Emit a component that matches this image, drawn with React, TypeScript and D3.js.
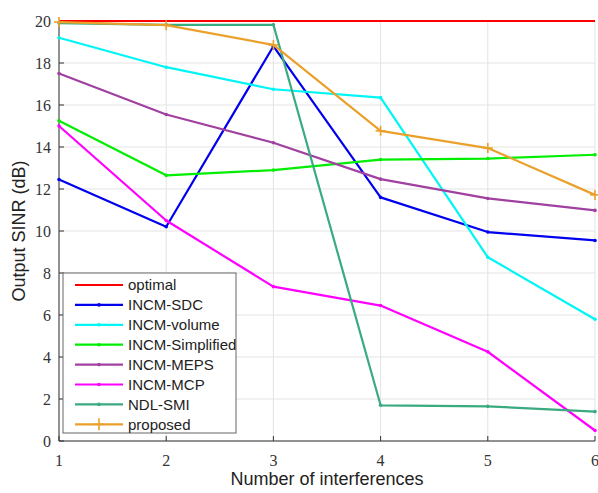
import React from "react";
import * as d3 from "d3";

const xValues = [1, 2, 3, 4, 5, 6];
const yTicks = [0, 2, 4, 6, 8, 10, 12, 14, 16, 18, 20];
const optimal = [20, 20, 20, 20, 20, 20];
const incmSdc = [12.45, 10.2, 18.8, 11.6, 9.95, 9.55];
const incmVolume = [19.2, 17.8, 16.75, 16.35, 8.75, 5.8];
const incmSimplified = [15.25, 12.65, 12.9, 13.4, 13.45, 13.63];
const incmMeps = [17.5, 15.55, 14.2, 12.47, 11.55, 10.98];
const incmMcp = [15.0, 10.5, 7.35, 6.45, 4.25, 0.5];
const ndlSmi = [19.9, 19.82, 19.82, 1.7, 1.65, 1.4];
const proposed = [19.95, 19.8, 18.86, 14.77, 13.95, 11.72];

const seriesNames = ["optimal", "INCM-SDC", "INCM-volume", "INCM-Simplified", "INCM-MEPS", "INCM-MCP", "NDL-SMI", "proposed"];
const seriesData = [optimal, incmSdc, incmVolume, incmSimplified, incmMeps, incmMcp, ndlSmi, proposed];
const seriesColors = ["#ff0000", "#0000ee", "#00f5f5", "#00ee00", "#a040a0", "#ff00ff", "#3aaa80", "#eaa02a"];
const seriesMarkers = ["none", "dot", "dot", "dot", "dot", "dot", "dot", "plus"];

export default function App() {
  const W = 598, H = 493;
  const left = 59, right = 595, top = 21, bottom = 441;
  const x = d3.scaleLinear().domain([1, 6]).range([left, right]);
  const y = d3.scaleLinear().domain([0, 20]).range([bottom, top]);
  const line = d3.line<number>().x((_, i) => x(xValues[i])).y((d) => y(d));
  const tickFont = "'Liberation Serif', 'DejaVu Serif', serif";
  const sans = "'Liberation Sans', Arial, sans-serif";

  const legX = 63, legY = 273, legW = 173, legH = 160;
  const rowH = 19.9;

  return (
    <svg width={W} height={H} style={{ position: "fixed", left: 0, top: 0, display: "block", background: "#fff" }}>
      {/* grid */}
      {xValues.map((v) => (
        <line key={"gx" + v} x1={x(v)} x2={x(v)} y1={top} y2={bottom} stroke="#e3e3e3" strokeWidth={1} />
      ))}
      {yTicks.map((v) => (
        <line key={"gy" + v} x1={left} x2={right} y1={y(v)} y2={y(v)} stroke="#e3e3e3" strokeWidth={1} />
      ))}
      {/* axes */}
      <line x1={left} x2={left} y1={top} y2={bottom} stroke="#333" strokeWidth={1} />
      <line x1={left} x2={right} y1={bottom} y2={bottom} stroke="#333" strokeWidth={1} />
      {yTicks.map((v) => (
        <g key={"ty" + v}>
          <line x1={left} x2={left + 5} y1={y(v)} y2={y(v)} stroke="#333" />
          <text x={left - 8} y={y(v)} dy="0.35em" textAnchor="end" fontFamily={tickFont} fontSize={16} fill="#333">{v}</text>
        </g>
      ))}
      {xValues.map((v) => (
        <g key={"tx" + v}>
          <line x1={x(v)} x2={x(v)} y1={bottom} y2={bottom - 5} stroke="#333" />
          <text x={x(v)} y={bottom + 19} dy="0.35em" textAnchor="middle" fontFamily={tickFont} fontSize={16} fill="#333">{v}</text>
        </g>
      ))}
      {/* series */}
      {seriesData.map((data, si) => (
        <g key={"s" + si}>
          <path d={line(data) || ""} fill="none" stroke={seriesColors[si]} strokeWidth={si === 0 ? 2 : 2.2} strokeLinejoin="round" />
          {seriesMarkers[si] === "dot" && data.map((d, i) => (
            <circle key={i} cx={x(xValues[i])} cy={y(d)} r={1.8} fill={seriesColors[si]} />
          ))}
          {seriesMarkers[si] === "plus" && data.map((d, i) => (
            <g key={i} stroke={seriesColors[si]} strokeWidth={1.6}>
              <line x1={x(xValues[i]) - 5} x2={x(xValues[i]) + 5} y1={y(d)} y2={y(d)} />
              <line x1={x(xValues[i])} x2={x(xValues[i])} y1={y(d) - 5} y2={y(d) + 5} />
            </g>
          ))}
        </g>
      ))}
      {/* legend */}
      <rect x={legX} y={legY} width={legW} height={legH} fill="#fff" stroke="#666" strokeWidth={1} />
      {seriesNames.map((name, i) => {
        const cy = legY + 12 + i * rowH;
        return (
          <g key={"l" + i}>
            <line x1={75} x2={123} y1={cy} y2={cy} stroke={seriesColors[i]} strokeWidth={2.2} />
            {seriesMarkers[i] === "dot" && <circle cx={99} cy={cy} r={1.8} fill={seriesColors[i]} />}
            {seriesMarkers[i] === "plus" && (
              <g stroke={seriesColors[i]} strokeWidth={1.6}>
                <line x1={94} x2={104} y1={cy} y2={cy} />
                <line x1={99} x2={99} y1={cy - 6} y2={cy + 6} />
              </g>
            )}
            <text x={128} y={cy} dy="0.35em" fontFamily={sans} fontSize={15} fill="#222">{name}</text>
          </g>
        );
      })}
      {/* axis labels */}
      <text x={(left + right) / 2} y={479} dy="0.35em" textAnchor="middle" fontFamily={sans} fontSize={18} fill="#222">Number of interferences</text>
      <text transform={`translate(19, ${(top + bottom) / 2}) rotate(-90)`} dy="0.35em" textAnchor="middle" fontFamily={sans} fontSize={18} fill="#222">Output SINR (dB)</text>
    </svg>
  );
}
